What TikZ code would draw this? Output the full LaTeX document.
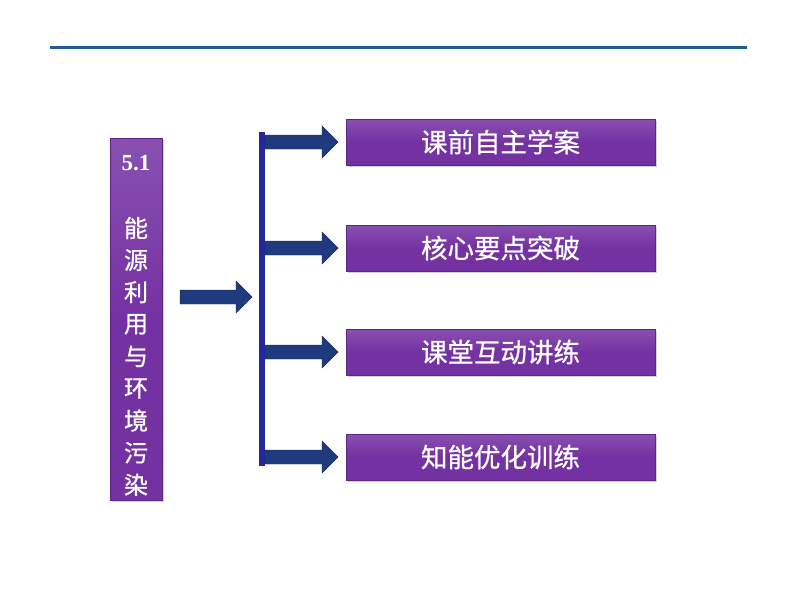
\documentclass[tikz,border=0pt]{standalone}
\usepackage{fontspec}
\setmainfont{Liberation Serif}
\newfontfamily\cjk[FakeBold=0.8]{Noto Sans CJK SC}
\usetikzlibrary{shadows,arrows.meta}
\definecolor{boxpurple}{HTML}{7431A2}
\definecolor{boxedge}{HTML}{5E2585}
\definecolor{arrowblue}{HTML}{1F3B7E}
\definecolor{barblue}{HTML}{25289A}
\definecolor{lineblue}{HTML}{1E5C9E}
\tikzset{
  pbox/.style={draw=boxedge, line width=0.6pt, top color=boxpurple!85!white, bottom color=boxpurple, middle color=boxpurple,
    drop shadow={shadow xshift=2pt, shadow yshift=-2pt, opacity=0.35}, inner sep=0pt},
  ptext/.style={text=white, font=\cjk\fontsize{24}{24}\selectfont},
  btext/.style={text=white, font=\cjk\fontsize{26.5}{27}\selectfont},
  fatarrow/.style={fill=arrowblue, draw=arrowblue!70!black, line width=0.4pt}
}
\begin{document}
\begin{tikzpicture}[x=1pt,y=-1pt]
\useasboundingbox (0,0) rectangle (800,600);
% top line
\draw[lineblue, line width=3pt] (50,47) -- (747,47);
% left box
\node[pbox, minimum width=52pt, minimum height=362pt, anchor=north west] (left) at (110,138) {};
\node[text=white, font=\bfseries\fontsize{23}{23}\selectfont] (num) at (136,163) {5.1};
\foreach \c [count=\i] in {能,源,利,用,与,环,境,污,染} {
  \node[ptext] (c\i) at (136,{228+(\i-1)*32.1}) {\c};
}
% left fat arrow
\fill[fatarrow] (180,290) -- (236,290) -- (236,281) -- (252,297) -- (236,313) -- (236,304) -- (180,304) -- cycle;
% vertical bar
\fill[barblue] (259,132) rectangle (265,466);
% right boxes
\foreach \y/\t/\n in {142/课前自主学案/b1, 248/核心要点突破/b2, 352/课堂互动讲练/b3, 457/知能优化训练/b4} {
  \node[pbox, minimum width=309pt, minimum height=46pt, btext] (\n) at (500.5,\y) {\t};
  \fill[fatarrow] (265,\y-7) -- (322,\y-7) -- (322,\y-16) -- (338,\y) -- (322,\y+16) -- (322,\y+7) -- (265,\y+7) -- cycle;
}
\end{tikzpicture}
\end{document}
